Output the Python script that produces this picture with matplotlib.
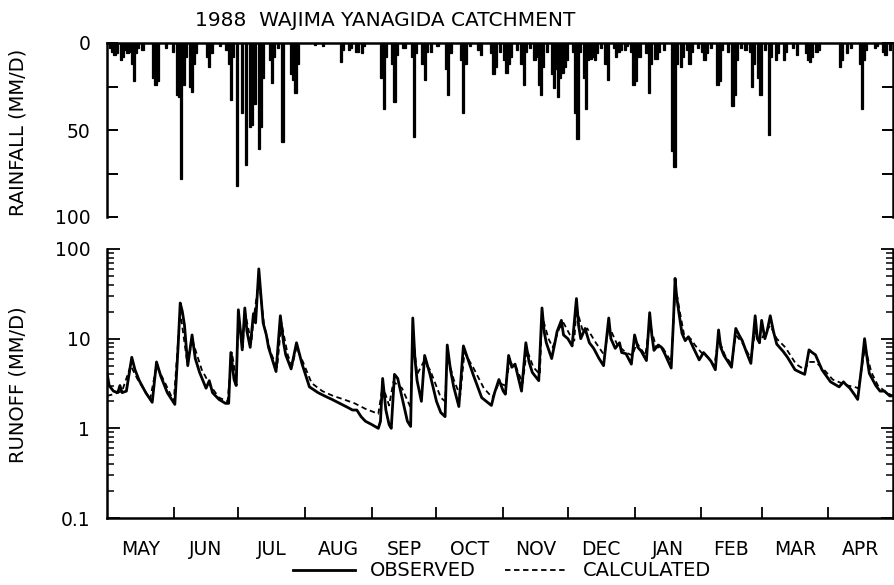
import matplotlib
matplotlib.use("Agg")
import matplotlib.pyplot as plt
from matplotlib.lines import Line2D
from matplotlib.ticker import FixedLocator, NullFormatter

plt.rcParams['font.family'] = ['DejaVu Sans']

# day of water year (0 = 1 May 1988) and daily rainfall (mm/d)
rain_day = [1, 2, 3, 4, 6, 7, 8, 9, 10, 11, 12, 13, 14, 16, 21, 22, 23, 27, 30,
            32, 33, 34, 35, 36, 38, 39, 40, 41, 46, 47, 48, 52, 55, 56, 57, 58,
            60, 62, 64, 66, 67, 68, 70, 71, 72, 75, 76, 77, 79, 81, 85, 86, 87,
            88, 96, 100, 108, 109, 112, 113, 115, 116, 118, 119, 127, 128, 129,
            132, 133, 134, 137, 138, 141, 142, 143, 146, 147, 148, 150, 153,
            157, 158, 159, 164, 165, 166, 168, 172, 173, 178, 179, 180, 182,
            184, 185, 186, 187, 190, 192, 193, 194, 196, 198, 199, 200, 201,
            202, 204, 206, 207, 208, 209, 210, 211, 212, 213, 216, 217, 218,
            219, 221, 222, 223, 224, 225, 226, 227, 229, 231, 232, 235, 236,
            237, 238, 240, 241, 243, 244, 245, 246, 247, 250, 251, 252, 254,
            255, 256, 258, 262, 263, 264, 266, 267, 269, 270, 271, 274, 276,
            277, 278, 280, 283, 284, 285, 288, 290, 291, 292, 294, 296, 298,
            299, 300, 302, 303, 305, 307, 308, 310, 311, 314, 315, 318, 320,
            324, 325, 326, 327, 329, 330, 340, 341, 343, 345, 349, 350, 351,
            352, 356, 357, 360, 361, 363]
rain_mm = [3, 5, 7, 6, 10, 8, 4, 6, 5, 12, 22, 6, 3, 4, 20, 24, 22, 3, 5,
           30, 31, 78, 24, 8, 25, 28, 12, 6, 8, 14, 6, 2, 4, 12, 33, 8,
           82, 40, 70, 48, 47, 35, 61, 48, 20, 10, 23, 8, 3, 57, 18, 21, 29,
           12, 1, 2, 11, 4, 4, 3, 5, 5, 6, 2, 20, 38, 8,
           12, 34, 7, 3, 3, 8, 54, 6, 12, 21, 5, 5, 2,
           15, 30, 6, 10, 40, 12, 2, 4, 7, 6, 18, 14, 5,
           10, 17, 12, 8, 4, 12, 24, 5, 3, 10, 8, 24, 30,
           14, 5, 18, 26, 15, 31, 20, 17, 14, 10, 5, 40, 55,
           5, 20, 38, 10, 9, 8, 10, 6, 3, 12, 21, 3, 8,
           5, 4, 4, 2, 5, 24, 22, 8, 8, 6, 29, 12, 9,
           9, 5, 4, 62, 71, 12, 14, 8, 4, 12, 5, 3, 5,
           10, 6, 3, 24, 22, 4, 5, 36, 30, 10, 3, 4, 5,
           25, 12, 20, 30, 4, 53, 8, 10, 6, 10, 5, 3, 7,
           6, 10, 11, 8, 5, 4, 14, 10, 6, 3, 12, 38, 10,
           4, 3, 2, 5, 7, 4]

# observed runoff (mm/d)
obs_day = [0, 1, 3, 5, 6, 7, 9, 11.5, 13, 15, 18, 21, 23, 25, 28, 31.5, 33, 34,
           35, 36, 37.5, 39.5, 41, 43, 46, 47.5, 49, 52, 55, 56.5, 57.5, 59, 60,
           61, 62, 62.8, 64, 65, 66.5, 68, 69, 70.5, 71.5, 72.5, 74, 75, 78.5,
           80.5, 82, 83, 85.5, 88, 90.5, 94, 98, 101, 104.5, 109, 112, 114, 116,
           118, 120, 123, 126, 127, 128, 129.5, 131, 132, 133.5, 135, 137, 139.5,
           141, 142, 143, 144, 146, 147.5, 150, 153, 155, 157, 158, 159.5, 161,
           163.4, 165.5, 167, 170, 174, 178.5, 180, 182, 184, 185, 186.5, 188,
           189.5, 192.5, 194.5, 196, 197.5, 200.5, 202, 203, 204, 206.5, 208,
           209, 211, 212, 214, 216, 218, 219, 220, 222, 224, 226, 228.5, 230.6,
           233, 234, 236, 238, 239, 241, 243.5, 245, 246.5, 248, 250.5, 252, 253,
           254, 256, 257.5, 259, 262, 263, 263.8, 264.5, 265.5, 267, 268.5, 270,
           272, 275, 277, 279, 280.5, 282.5, 284, 285, 286.5, 290, 292, 293.5,
           295, 297, 299, 301, 302, 303, 304, 305.5, 306.5, 308, 309.5, 311, 314,
           316, 319.5, 322, 324, 326, 327.5, 329, 332, 336, 339, 340, 342, 343,
           345, 347, 348.6, 350.5, 351.8, 353, 354, 357, 359, 361, 363.5, 365]
obs_val = [4.2, 3.0, 2.6, 2.5, 3.0, 2.5, 2.6, 6.2, 4.5, 3.4, 2.5, 1.95, 5.5, 3.8,
           2.5, 1.85, 8, 25, 20, 14, 5, 11, 6, 4.2, 2.8, 3.4, 2.5, 2.1, 1.9, 1.9,
           7.0, 3.5, 3.0, 21, 12, 7.5, 22, 12, 8, 19, 15, 60, 30, 15, 11, 8, 4.3,
           18, 9, 6.6, 4.6, 9, 5.3, 2.9, 2.5, 2.3, 2.1, 1.85, 1.7, 1.6, 1.6,
           1.35, 1.2, 1.1, 1.0, 1.2, 3.6, 1.6, 1.1, 1.0, 4.0, 3.6, 2.2, 1.2,
           1.05, 17, 6, 3.4, 2.0, 6.5, 4.0, 2.0, 1.5, 1.35, 8.5, 4.5, 2.9,
           1.75, 8.3, 6.5, 4.0, 2.2, 1.8, 2.5, 3.5, 2.6, 2.4, 6.5, 4.8,
           5.2, 2.6, 9, 5.5, 4.2, 3.4, 22, 12, 9, 6, 9,
           12, 16, 11, 10, 8.3, 28, 14, 10, 13, 9, 7.8, 6, 5,
           17, 10, 7.8, 9, 7, 6.8, 5.2, 11, 8, 7.3, 5.7, 19.5, 11,
           7.4, 8.5, 8, 6.8, 4.7, 15, 47, 30, 20, 11.5, 9.5, 10.5,
           8.2, 5.8, 7, 6.2, 5.6, 4.5, 12.5, 8, 6.5, 4.8, 13, 11,
           9.5, 7, 5.3, 18, 10, 9, 16, 10, 12, 18, 12, 8.7, 7.2,
           6.2, 4.5, 4.2, 4.0, 7.5, 7, 6.6, 4.5, 3.3, 3.0, 2.9, 3.3, 3.1,
           2.8, 2.4, 2.1, 5, 10, 6, 4.1, 3.0, 2.6, 2.6, 2.3, 2.3]

# calculated runoff (mm/d)
calc_day = [0, 3, 7, 11, 14, 20, 23, 27, 31, 34, 37, 40, 44, 48, 52, 56, 58, 60,
            61, 63, 64, 67, 68, 70.5, 73, 76, 79, 81, 84, 86, 88, 91, 95, 100,
            105, 110, 115, 120, 126, 128, 131, 133, 137, 141, 142, 144, 147, 150,
            155, 157, 158, 161, 164, 166, 170, 175, 179, 182, 185, 187, 190, 193,
            195, 198, 201, 202, 205, 207, 210, 212, 215, 217, 218, 221, 223, 227,
            231, 233, 237, 241, 244, 246, 250, 252, 255, 258, 262, 264, 266, 268,
            271, 273, 276, 279, 282, 284, 287, 290, 292, 295, 299, 301, 303, 305,
            308, 311, 315, 320, 324, 326, 329, 333, 337, 341, 344, 347, 349, 352,
            355, 358, 362, 365]
calc_val = [2.3, 2.4, 2.6, 5.0, 3.6, 2.1, 5.0, 3.2, 2.0, 20, 6, 9, 4.5, 3.0, 2.2,
            2.0, 7, 3.5, 18, 8, 20, 9, 16, 45, 14, 7, 4.8, 15, 6.5, 5, 8, 5.5,
            3.2, 2.6, 2.3, 2.1, 1.9, 1.65, 1.45, 3.0, 1.8, 3.3, 2.8, 1.7, 12, 4.0,
            5.5, 4.5, 2.2, 2.0, 6.5, 3.5, 2.3, 7, 4.8, 2.8, 2.2, 3.2, 3.0, 5.5,
            4.8, 3.2, 7.5, 4.8, 4.0, 18, 10, 8, 13, 15, 11, 9.5, 22, 12, 13, 9,
            6.5, 14, 8.5, 7, 6.5, 9, 6.5, 15, 8, 8, 5.5, 38, 20, 11, 10, 8.5, 7,
            6.2, 5, 10, 6.5, 5.2, 11, 9, 6, 12, 9, 11, 14, 10, 8, 5.2, 4.5, 5.5,
            5.5, 4.5, 3.5, 3.2, 3.0, 2.9, 2.8, 8, 4.2, 3.0, 2.5, 2.3]

month_edges = [0, 31, 61, 92, 123, 153, 184, 214, 245, 276, 304, 335, 365]
month_names = ['MAY', 'JUN', 'JUL', 'AUG', 'SEP', 'OCT', 'NOV', 'DEC',
               'JAN', 'FEB', 'MAR', 'APR']

fig = plt.figure(figsize=(8.95, 5.85), dpi=100)
ax_r = fig.add_axes([107 / 895, 1 - 217 / 585, 786 / 895, 174 / 585])
ax_q = fig.add_axes([107 / 895, 1 - 518 / 585, 786 / 895, 269 / 585])

# rainfall (inverted bars)
ax_r.bar(rain_day, rain_mm, width=1.0, align='edge', color='black',
         edgecolor='black', linewidth=0.9)
ax_r.set_xlim(0, 365)
ax_r.set_ylim(100, 0)
ax_r.spines['bottom'].set_visible(False)
for s in ['top', 'left', 'right']:
    ax_r.spines[s].set_linewidth(1.8)
ax_r.set_xticks([])
ax_r.yaxis.set_major_locator(FixedLocator([0, 25, 50, 75, 100]))
ax_r.set_yticklabels(['0', '', '50', '', '100'])
ax_r.tick_params(axis='y', direction='in', length=8, width=1.4, pad=12,
                 labelsize=13.5, left=True, right=True)

# runoff
ax_q.plot(obs_day, obs_val, color='black', lw=2.0, solid_joinstyle='round')
ax_q.plot(calc_day, calc_val, color='black', lw=1.3, linestyle=(0, (3, 2)))
ax_q.set_yscale('log')
ax_q.set_ylim(0.1, 100)
ax_q.set_xlim(0, 365)
ax_q.set_yticks([0.1, 1, 10, 100])
ax_q.set_yticklabels(['0.1', '1', '10', '100'])
ax_q.yaxis.set_minor_formatter(NullFormatter())
ax_q.tick_params(axis='y', which='major', direction='in', length=9, width=1.3,
                 pad=12, labelsize=13.5, left=True, right=True)
ax_q.tick_params(axis='y', which='minor', direction='in', length=5, width=1.1,
                 left=True, right=True)
ax_q.set_xticks(month_edges[1:-1])
ax_q.set_xticklabels([])
ax_q.set_xticks([(a + b) / 2 for a, b in zip(month_edges[:-1], month_edges[1:])],
                minor=True)
ax_q.set_xticklabels(month_names, minor=True)
ax_q.tick_params(axis='x', which='major', direction='in', length=8, width=1.3)
ax_q.tick_params(axis='x', which='minor', length=0, pad=16, labelsize=13.5)
ax_q.spines['top'].set_visible(False)
for s in ['bottom', 'left', 'right']:
    ax_q.spines[s].set_linewidth(1.8)

fig.text(385 / 895, 1 - 20 / 585, '1988  WAJIMA YANAGIDA CATCHMENT',
         ha='center', va='center', fontsize=14.5)
fig.text(18 / 895, 1 - 132 / 585, 'RAINFALL (MM/D)', rotation=90,
         ha='center', va='center', fontsize=14)
fig.text(18 / 895, 1 - 385 / 585, 'RUNOFF (MM/D)', rotation=90,
         ha='center', va='center', fontsize=14)

handles = [Line2D([], [], color='black', lw=2.0),
           Line2D([], [], color='black', lw=1.3, linestyle=(0, (3, 2)))]
fig.legend(handles, ['OBSERVED', 'CALCULATED'], loc='center',
           bbox_to_anchor=(502 / 895, 1 - 571 / 585), ncol=2, frameon=False,
           fontsize=14, handlelength=3.2, columnspacing=1.5)

fig.savefig('out.png', dpi=100)
